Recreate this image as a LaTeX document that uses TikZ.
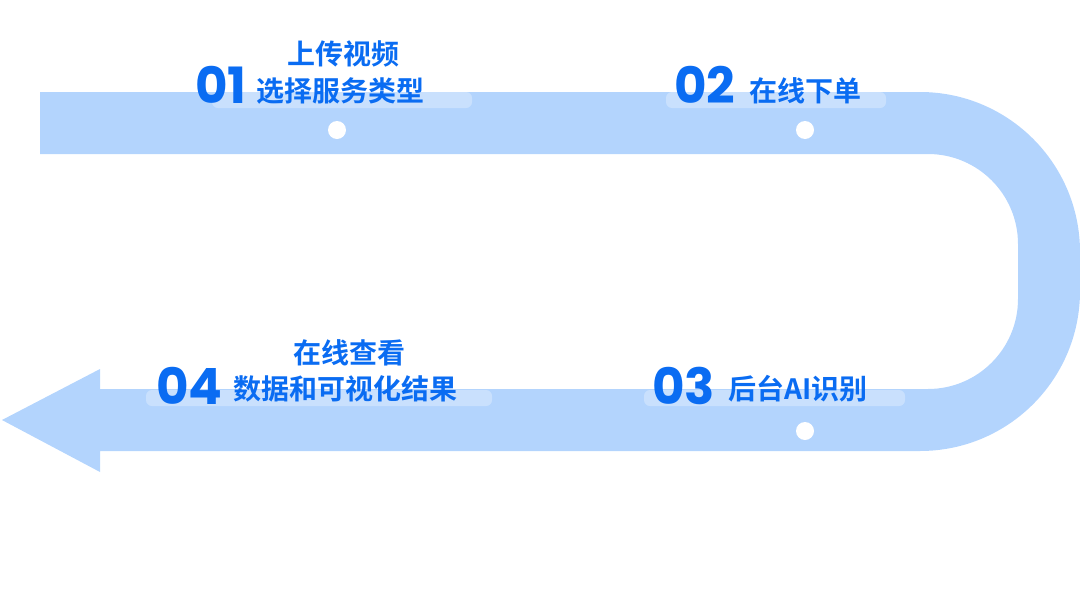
\documentclass[tikz,border=0pt]{standalone}
\usepackage{fontspec}
\newfontfamily\cjk{Noto Sans CJK SC Bold}
\newfontfamily\num{Poppins Bold}
\definecolor{band}{HTML}{B3D4FD}
\definecolor{txt}{HTML}{0A6CF2}
\tikzset{
 digits/.style={text=txt,font=\num\fontsize{50}{50}\selectfont,inner sep=0pt,anchor=base west},
 cn/.style={text=txt,font=\cjk\fontsize{28}{28}\selectfont,inner sep=0pt,anchor=base west},
 hl/.style={fill=white,fill opacity=0.3,rounded corners=6pt},
 dot/.style={circle,fill=white,minimum size=18pt,inner sep=0pt}
}
\begin{document}
\begin{tikzpicture}[x=1pt,y=-1pt]
\useasboundingbox (0,0) rectangle (1080,600);
\fill[band] (40,92) [rounded corners=160pt]-- (1080,92) -- (1080,451) [sharp corners]-- (100,451) -- (100,472) -- (2,420) -- (100,369) -- (100,389) [rounded corners=90pt]-- (1018,389) -- (1018,154) [sharp corners]-- (40,154) -- cycle;
\fill[hl] (212,92) rectangle (472,108);
\fill[hl] (666,92) rectangle (886,108);
\fill[hl] (644,390) rectangle (905,406);
\fill[hl] (146,390) rectangle (492,406);
\node[dot] (d1) at (337,130) {};
\node[dot] (d2) at (805,130) {};
\node[dot] (d3) at (805,431) {};
\node[digits] (n1) at (195,103) {01};
\node[cn] (t1a) at (287,64) {上传视频};
\node[cn] (t1b) at (256,101) {选择服务类型};
\node[digits] (n2) at (674,103) {02};
\node[cn] (t2) at (749,101) {在线下单};
\node[digits] (n3) at (652,404) {03};
\node[cn] (t3) at (728,399) {后台AI识别};
\node[digits] (n4) at (156,404) {04};
\node[cn] (t4a) at (293,363) {在线查看};
\node[cn] (t4b) at (233,399) {数据和可视化结果};
\end{tikzpicture}
\end{document}
